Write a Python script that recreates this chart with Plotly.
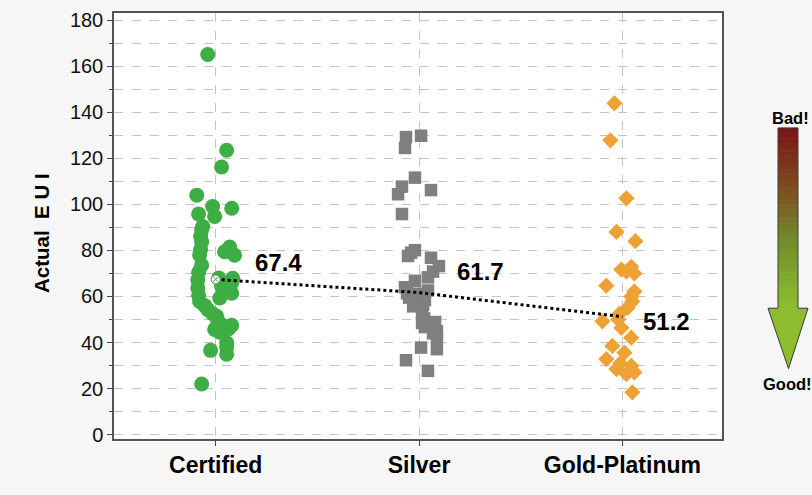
import plotly.graph_objects as go

# ---- data ---------------------------------------------------------------
categories = ["Certified", "Silver", "Gold-Platinum"]
group_means = [67.4, 61.7, 51.2]

certified_eui = [165.1, 123.5, 116.2, 104.0, 99.1, 98.3, 95.8, 94.7, 90.4, 89.0,
                 86.0, 83.7, 81.5, 80.5, 79.4, 78.0, 77.9, 73.6, 70.5, 68.0,
                 67.9, 67.2, 66.0, 65.0, 64.3, 63.6, 62.0, 61.4, 60.5, 59.3,
                 57.8, 56.0, 54.3, 52.5, 51.4, 49.2, 48.0, 47.5, 46.0, 45.7,
                 44.5, 39.9, 38.0, 36.6, 34.9, 22.0]
certified_jitter = [-0.039, 0.054, 0.029, -0.093, -0.015, 0.079, -0.084, -0.005, -0.064, -0.069,
                    -0.074, -0.069, 0.069, -0.074, 0.044, -0.079, 0.093, -0.069, -0.084, 0.015,
                    0.084, -0.088, 0.079, 0.049, 0.029, -0.088, 0.064, 0.079, -0.084, 0.020,
                    -0.079, -0.054, -0.039, -0.015, 0.005, 0.010, 0.025, 0.079, 0.064, -0.005,
                    0.020, 0.054, 0.054, -0.025, 0.054, -0.069]

silver_eui = [129.2, 129.8, 124.5, 111.6, 107.7, 104.4, 106.2, 95.8, 80.1, 79.0,
              77.6, 76.8, 73.2, 70.8, 68.3, 66.8, 64.0, 62.6, 61.4, 61.2,
              59.5, 58.5, 55.7, 56.4, 52.1, 50.5, 48.5, 48.9, 46.7, 44.9,
              44.0, 42.1, 37.8, 37.1, 32.3, 27.7]
silver_jitter = [-0.064, 0.010, -0.069, -0.020, -0.084, -0.103, 0.059, -0.084, -0.020, -0.039,
                 -0.054, 0.059, 0.098, 0.069, 0.044, -0.020, -0.069, 0.044, -0.059, -0.010,
                 -0.049, 0.029, -0.029, 0.020, 0.015, 0.025, 0.015, 0.079, 0.029, 0.088,
                 0.069, 0.088, 0.010, 0.088, -0.064, 0.044]

gold_eui = [143.9, 127.8, 102.6, 88.0, 84.0, 72.9, 71.7, 70.8, 70.0, 64.7,
            62.2, 60.0, 57.8, 55.0, 52.4, 50.0, 49.2, 46.4, 42.1, 38.5,
            35.6, 32.8, 31.0, 29.9, 28.5, 27.0, 26.3, 18.4]
gold_jitter = [-0.039, -0.059, 0.020, -0.029, 0.064, 0.044, -0.005, 0.020, 0.059, -0.079,
               0.059, 0.044, 0.049, 0.025, -0.015, -0.020, -0.098, -0.005, 0.044, -0.049,
               0.010, -0.079, -0.010, 0.044, -0.029, 0.059, 0.020, 0.049]

y_ticks = [0, 20, 40, 60, 80, 100, 120, 140, 160, 180]

# ---- figure -------------------------------------------------------------
W, H = 812, 495
M = dict(l=114, r=90, t=9, b=56)
FONT = "Liberation Sans, Arial, sans-serif"

fig = go.Figure()

groups = [
    (certified_eui, certified_jitter, "circle", 15, "#3dae44"),
    (silver_eui, silver_jitter, "square", 12.5, "#7f7f7f"),
    (gold_eui, gold_jitter, "diamond", 12.5, "#eea236"),
]
for idx, (vals, jit, sym, sz, col) in enumerate(groups):
    fig.add_trace(go.Scatter(
        x=[idx + j for j in jit], y=vals, mode="markers",
        marker=dict(symbol=sym, size=sz, color=col, line=dict(width=0)),
        showlegend=False, hoverinfo="y",
    ))

# dotted line joining the group means
fig.add_trace(go.Scatter(
    x=[0, 1, 2], y=group_means, mode="lines+markers",
    line=dict(color="black", width=3, dash="dot"),
    marker=dict(symbol="circle-x", size=9, color="white",
                line=dict(color="#5a8a5a", width=1), opacity=[1, 0, 0]),
    showlegend=False, hoverinfo="y",
))

label_shift = [(37, 17), (36, 21), (19, -5)]
for idx, (m, (dx, dy)) in enumerate(zip(group_means, label_shift)):
    fig.add_annotation(x=idx, y=m, xref="x", yref="y", text=f"<b>{m:.1f}</b>",
                       showarrow=False, xanchor="left", yanchor="middle",
                       xshift=dx, yshift=dy,
                       font=dict(family=FONT, size=24, color="black"))

# ---- gradient "Bad! -> Good!" arrow in paper space ----------------------
pw = W - M["l"] - M["r"]
ph = H - M["t"] - M["b"]


def px(xp):
    return (xp - M["l"]) / pw


def py(yp):
    return (H - M["b"] - yp) / ph


def lerp_color(t):
    stops = [(0.0, (122, 22, 22)), (0.35, (128, 78, 32)),
             (0.62, (112, 140, 42)), (1.0, (140, 190, 46))]
    for (t0, c0), (t1, c1) in zip(stops[:-1], stops[1:]):
        if t <= t1:
            f = (t - t0) / (t1 - t0)
            return "rgb(%d,%d,%d)" % tuple(round(a + (b - a) * f) for a, b in zip(c0, c1))
    return "rgb(%d,%d,%d)" % stops[-1][1]


shapes = []
shaft_top, shaft_bot = 125, 307
n_strips = 70
step = (shaft_bot - shaft_top) / n_strips
for i in range(n_strips):
    y0 = shaft_top + i * step
    shapes.append(dict(type="rect", xref="paper", yref="paper",
                       x0=px(778), x1=px(798), y0=py(y0), y1=py(y0 + step + 0.6),
                       fillcolor=lerp_color(i / (n_strips - 1)), line=dict(width=0),
                       layer="above"))
shapes.append(dict(type="path", xref="paper", yref="paper",
                   path=f"M {px(768)} {py(307)} L {px(808)} {py(307)} L {px(788.5)} {py(368)} Z",
                   fillcolor="#8dbd2e", line=dict(width=0), layer="above"))
outline = (f"M {px(778)} {py(125)} L {px(798)} {py(125)} L {px(798)} {py(307)} "
           f"L {px(808)} {py(307)} L {px(788.5)} {py(368)} L {px(768)} {py(307)} "
           f"L {px(778)} {py(307)} Z")
shapes.append(dict(type="path", xref="paper", yref="paper", path=outline,
                   fillcolor="rgba(0,0,0,0)", line=dict(color="#3a3a3a", width=1),
                   layer="above"))
fig.update_layout(shapes=shapes)

fig.add_annotation(x=px(790), y=py(115), xref="paper", yref="paper", text="<b>Bad!</b>",
                   showarrow=False, xanchor="center", yanchor="middle",
                   font=dict(family=FONT, size=16.5, color="black"))
fig.add_annotation(x=px(787), y=py(383), xref="paper", yref="paper", text="<b>Good!</b>",
                   showarrow=False, xanchor="center", yanchor="middle",
                   font=dict(family=FONT, size=16.5, color="black"))

# y-axis title
fig.add_annotation(x=px(42), y=py(231), xref="paper", yref="paper",
                   text="<b>Actual\u00a0 E U I</b>", textangle=-90, showarrow=False,
                   xanchor="center", yanchor="middle",
                   font=dict(family=FONT, size=20.5, color="black"))

# ---- axes ---------------------------------------------------------------
fig.update_xaxes(
    range=[-0.5, 2.49], tickvals=[0, 1, 2],
    ticktext=[f"<b>{c}</b>" for c in categories],
    tickfont=dict(family=FONT, size=23, color="black"),
    ticks="outside", ticklen=5, tickcolor="#444", tickwidth=1,
    showgrid=True, gridcolor="#c4c4c4", griddash="dash", gridwidth=1,
    showline=True, linecolor="#555", linewidth=1.5, mirror=True,
    zeroline=False, fixedrange=True,
)
fig.update_yaxes(
    range=[-1.9, 183.1], tickvals=y_ticks,
    tickfont=dict(family=FONT, size=20, color="#111"),
    ticks="outside", ticklen=5, tickcolor="#444", tickwidth=1,
    showgrid=True, gridcolor="#c4c4c4", griddash="dash", gridwidth=1,
    minor=dict(dtick=10, ticks="outside", ticklen=3, tickcolor="#444",
               showgrid=True, gridcolor="#c4c4c4", griddash="dash"),
    showline=True, linecolor="#555", linewidth=1.5, mirror=True,
    zeroline=False, fixedrange=True,
)

fig.update_layout(
    width=W, height=H, margin=M,
    paper_bgcolor="#f6f6f6", plot_bgcolor="white",
    font=dict(family=FONT),
    showlegend=False,
)

fig.write_html("out.html")
